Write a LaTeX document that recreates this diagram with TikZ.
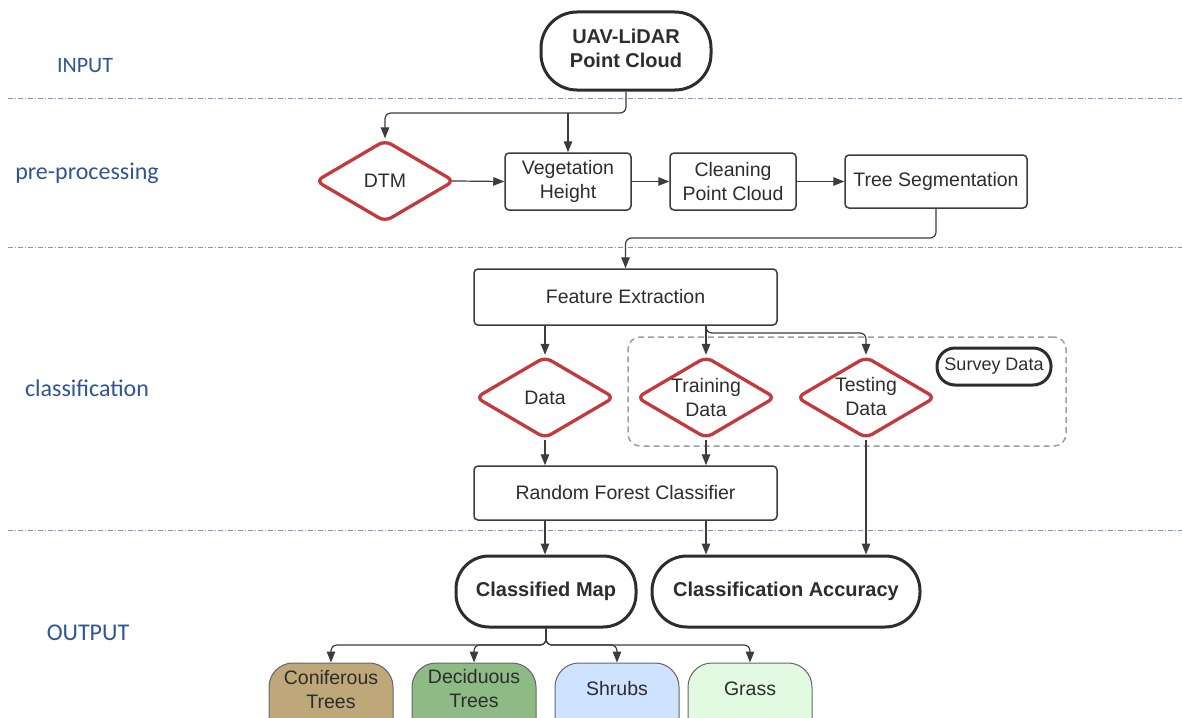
\documentclass[tikz,border=0pt]{standalone}
\usepackage{fontspec}
\setmainfont{Liberation Sans}
\newfontfamily\calib{Carlito}
\usetikzlibrary{arrows.meta,shapes.geometric,calc}
\definecolor{linec}{RGB}{60,60,60}
\definecolor{txtc}{RGB}{45,45,45}
\definecolor{redc}{RGB}{196,58,60}
\definecolor{lblc}{RGB}{47,85,151}
\definecolor{divc}{RGB}{125,150,200}
\definecolor{conc}{RGB}{190,168,122}
\definecolor{decc}{RGB}{141,186,133}
\definecolor{shrc}{RGB}{207,226,255}
\definecolor{grac}{RGB}{226,249,226}
\begin{document}
\begin{tikzpicture}[x=1pt,y=-1pt,
  box/.style={draw=linec, line width=1.5pt, rounded corners=4pt, fill=white, text=txtc,
    font=\fontsize{19.5}{24}\selectfont, align=center, inner sep=0pt},
  term/.style={draw=txtc, line width=3pt, fill=white, text=txtc,
    font=\bfseries\fontsize{20}{25}\selectfont, align=center, inner sep=0pt},
  termtext/.style={text=txtc, font=\bfseries\fontsize{20}{24}\selectfont, align=center, inner sep=0pt},
  dia/.style={diamond, draw=redc, line width=3.3pt, rounded corners=7pt, fill=white,
    minimum width=139pt, minimum height=82pt, inner sep=0pt},
  dtext/.style={text=txtc, font=\fontsize{19.5}{24}\selectfont, align=center, inner sep=0pt},
  leaf/.style={draw=gray!80!black, line width=1pt, rounded corners=24pt,
    minimum width=124pt, minimum height=100pt, inner sep=0pt},
  arr/.style={draw=linec, line width=1.2pt, rounded corners=6pt,
    -{Triangle[length=11pt,width=8.5pt]}},
  divider/.style={draw=divc, line width=1pt, dash pattern=on 5pt off 2pt on 1pt off 2pt},
  lane/.style={text=lblc, font=\calib\fontsize{24}{28}\selectfont, inner sep=0pt}
]
\useasboundingbox (0,0) rectangle (1182,717);
\clip (0,0) rectangle (1182,717);
\fill[white] (0,0) rectangle (1182,717);

% dividers
\coordinate (d1a) at (8,98);   \coordinate (d1b) at (1182,98);
\coordinate (d2a) at (8,247);  \coordinate (d2b) at (1182,247);
\coordinate (d3a) at (8,530);  \coordinate (d3b) at (1182,530);
\draw[divider] (d1a) -- (d1b);
\draw[divider] (d2a) -- (d2b);
\draw[divider] (d3a) -- (d3b);

% lane labels
\node[lane, font=\calib\fontsize{22}{26}\selectfont] (linput) at (85,66) {INPUT};
\node[lane] (lpre) at (87,173) {pre-processing};
\node[lane] (lcls) at (87,388) {classification};
\node[lane] (lout) at (88,633) {OUTPUT};

% survey dashed region
\node[draw=gray!75, line width=1.5pt, dash pattern=on 6pt off 4pt, rounded corners=12pt,
  minimum width=438pt, minimum height=109pt, inner sep=0pt] (sbox) at (847,391.5) {};
\node[draw=txtc, line width=3pt, rounded corners=18pt, minimum width=114pt, minimum height=37pt,
  inner sep=0pt, text=txtc, font=\fontsize{18}{22}\selectfont] (survey) at (994,366.5) {Survey Data};

% nodes
\node[term, rounded corners=36pt, minimum width=170pt, minimum height=78pt] (uav) at (626,51) {};
\node[termtext] (uavt) at (626,48) {UAV-LiDAR\\Point Cloud};
\node[dia] (dtm) at (385,181) {};
\node[dtext] (dtmt) at (dtm) {DTM};
\node[box, minimum width=126pt, minimum height=57pt] (veg) at (568,181.5) {Vegetation\\Height};
\node[box, minimum width=126pt, minimum height=57pt] (clean) at (733,181.5) {Cleaning\\Point Cloud};
\node[box, minimum width=182pt, minimum height=53pt] (tseg) at (936,181.5) {Tree Segmentation};
\node[box, minimum width=303pt, minimum height=56pt] (fe) at (625.5,297) {Feature Extraction};
\node[dia] (data) at (545,397.5) {};
\node[dtext] (datat) at (data) {Data};
\node[dia] (train) at (706,397.5) {};
\node[dtext] (traint) at (706,398) {Training\\Data};
\node[dia] (test) at (866,397.5) {};
\node[dtext] (testt) at (866,396.5) {Testing\\Data};
\node[box, minimum width=303pt, minimum height=54pt] (rfc) at (625.5,493) {Random Forest Classifier};
\node[term, rounded corners=33pt, minimum width=180pt, minimum height=71pt] (cm) at (546,591.5) {Classified Map};
\node[term, rounded corners=35pt, minimum width=268pt, minimum height=71pt] (ca) at (786,591.5) {Classification Accuracy};

% leaves
\node[leaf, fill=conc] (conif) at (331,713) {};
\node[leaf, fill=decc] (decid) at (474,713) {};
\node[leaf, fill=shrc] (shrub) at (617,713) {};
\node[leaf, fill=grac] (grass) at (750,713) {};
\node[dtext] (conift) at ($(conif.north)+(0,27)$) {Coniferous\\Trees};
\node[dtext] (decidt) at ($(decid.north)+(0,26)$) {Deciduous\\Trees};
\node[dtext] (shrubt) at ($(shrub.north)+(0,26)$) {Shrubs};
\node[dtext] (grasst) at ($(grass.north)+(0,26)$) {Grass};

% connectors
\coordinate (j1) at (626,113);
\draw[arr] (uav.south) -- (j1) -| (dtm.north);
\draw[arr] (j1 -| veg.north) -- (veg.north);
\draw[arr, shorten <=-4pt] (dtm.east) -- (veg.west);
\draw[arr] (veg.east) -- (clean.west);
\draw[arr] (clean.east) -- (tseg.west);
\coordinate (j2) at (936,238);
\draw[arr] (tseg.south) -- (j2) -| (fe.north);
\draw[arr] (fe.south -| data.north) -- (data.north);
\draw[arr] (fe.south -| train.north) -- (train.north);
\coordinate (j4) at (706,333);
\draw[arr] (fe.south -| train.north) -- (j4) -| (test.north);
\draw[arr] (data.south) -- (data.south |- rfc.north);
\draw[arr] (train.south) -- (train.south |- rfc.north);
\draw[arr] (test.south) -- (test.south |- ca.north);
\draw[arr] (rfc.south -| data.south) -- (data.south |- cm.north);
\draw[arr] (rfc.south -| train.south) -- (train.south |- ca.north);
\coordinate (j3) at (546,645);
\draw[arr] (cm.south) -- (j3) -| (conif.north);
\draw[arr] (cm.south) -- (j3) -| (decid.north);
\draw[arr] (cm.south) -- (j3) -| (shrub.north);
\draw[arr] (cm.south) -- (j3) -| (grass.north);
\end{tikzpicture}
\end{document}
